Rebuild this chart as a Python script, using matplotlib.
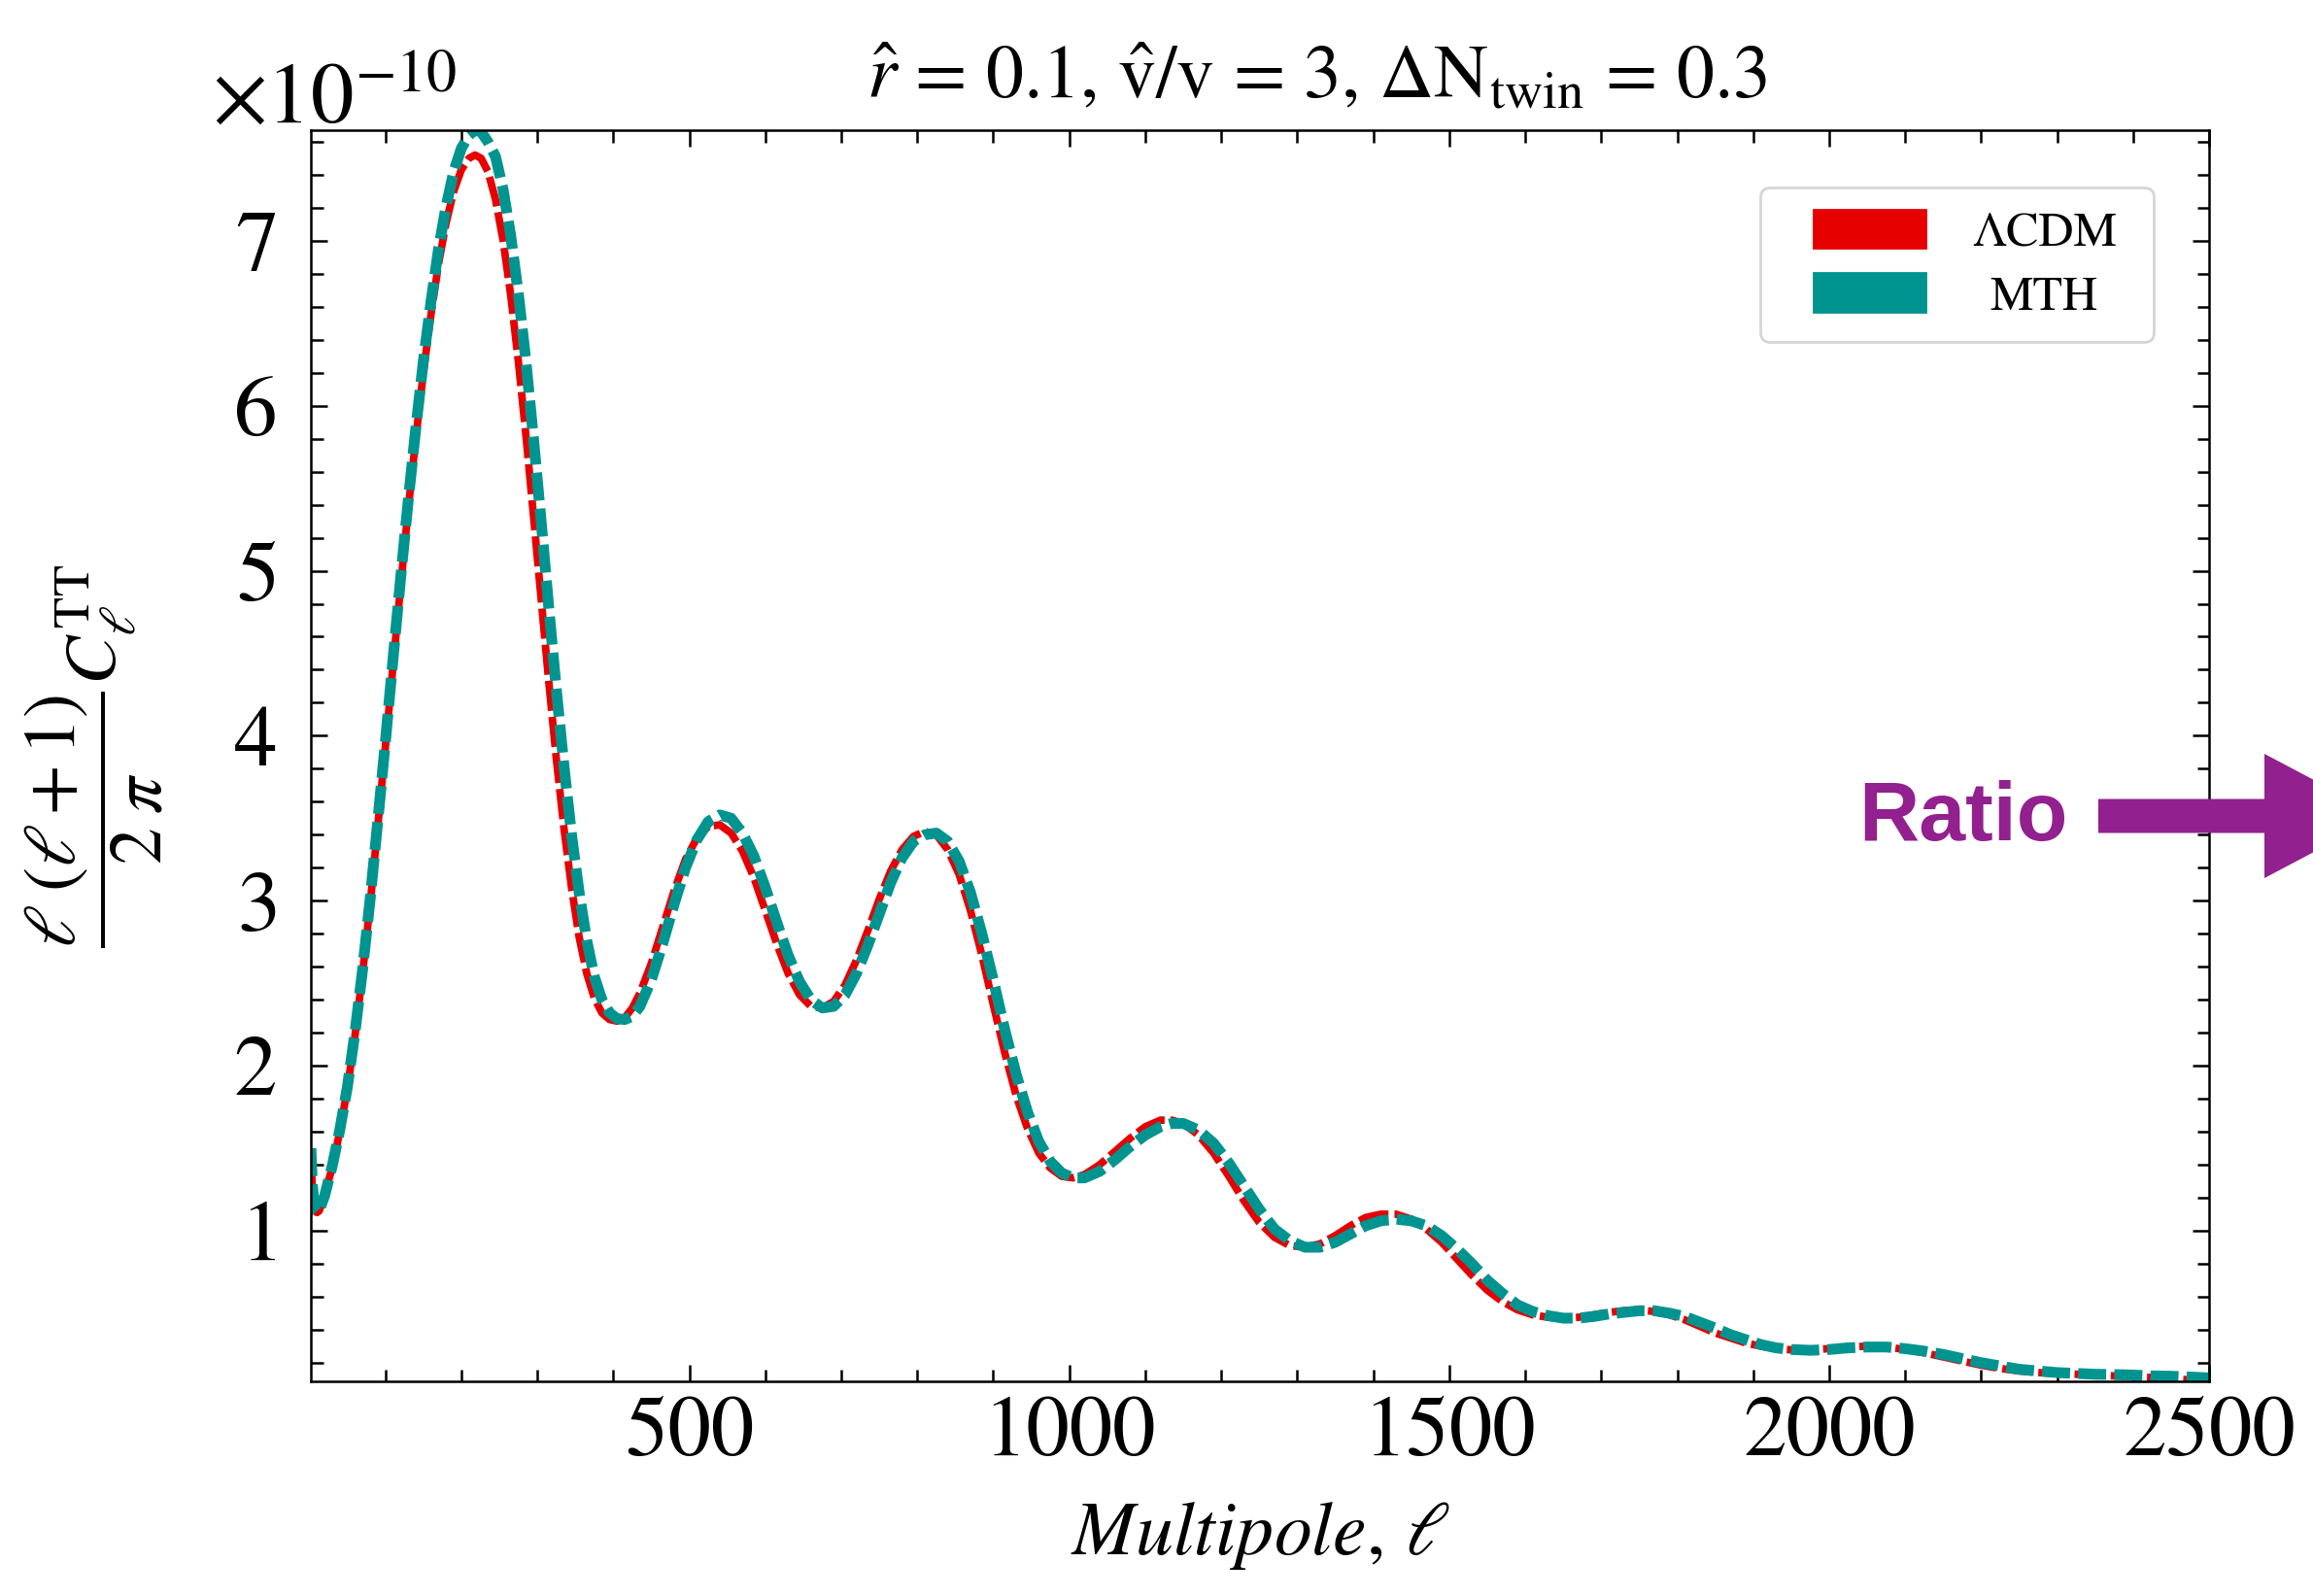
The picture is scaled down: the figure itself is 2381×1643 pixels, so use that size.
import numpy as np
import matplotlib
matplotlib.use("Agg")
import matplotlib.pyplot as plt
from matplotlib.legend_handler import HandlerPatch
from matplotlib.offsetbox import DrawingArea
from matplotlib.patches import FancyArrow, Patch, Rectangle
from matplotlib.ticker import MultipleLocator, ScalarFormatter

plt.rcParams["font.family"] = "STIXGeneral"
plt.rcParams["mathtext.fontset"] = "stix"

# multipoles and D_ell values (units of 1e-10)
ell = [
    2, 4, 6, 8, 10, 13, 16, 20, 25, 30,
    40, 50, 60, 70, 80, 90, 100, 110, 120, 130,
    140, 150, 160, 170, 180, 190, 200, 210, 218, 226,
    235, 245, 255, 265, 275, 285, 295, 305, 315, 325,
    335, 345, 355, 365, 375, 385, 395, 405, 415, 425,
    435, 450, 465, 480, 495, 510, 525, 540, 555, 570,
    585, 600, 615, 630, 645, 660, 675, 690, 705, 720,
    735, 750, 765, 780, 795, 810, 825, 840, 855, 870,
    885, 900, 915, 930, 945, 960, 975, 990, 1005, 1020,
    1040, 1060, 1080, 1100, 1120, 1135, 1150, 1170, 1190, 1210,
    1230, 1250, 1270, 1290, 1310, 1330, 1350, 1370, 1390, 1410,
    1430, 1450, 1470, 1490, 1510, 1530, 1550, 1570, 1590, 1610,
    1630, 1650, 1670, 1690, 1710, 1730, 1750, 1770, 1790, 1810,
    1830, 1850, 1870, 1890, 1910, 1930, 1950, 1975, 2000, 2025,
    2050, 2075, 2100, 2125, 2150, 2175, 2200, 2225, 2250, 2275,
    2300, 2325, 2350, 2375, 2400, 2425, 2450, 2475, 2500,
]
dl_lcdm = [
    1.45, 1.25, 1.16, 1.12, 1.11, 1.12, 1.16, 1.21, 1.30, 1.38,
    1.60, 1.86, 2.18, 2.56, 2.98, 3.45, 3.93, 4.42, 4.90, 5.37,
    5.80, 6.20, 6.55, 6.86, 7.11, 7.30, 7.43, 7.50, 7.52, 7.50,
    7.42, 7.25, 7.00, 6.67, 6.27, 5.82, 5.33, 4.83, 4.33, 3.86,
    3.44, 3.08, 2.78, 2.56, 2.41, 2.32, 2.28, 2.27, 2.29, 2.35,
    2.44, 2.62, 2.84, 3.06, 3.25, 3.38, 3.45, 3.46, 3.41, 3.30,
    3.14, 2.94, 2.74, 2.56, 2.43, 2.36, 2.35, 2.39, 2.49, 2.64,
    2.82, 3.01, 3.18, 3.31, 3.39, 3.42, 3.40, 3.31, 3.16, 2.94,
    2.67, 2.37, 2.08, 1.82, 1.62, 1.47, 1.38, 1.33, 1.32, 1.34,
    1.40, 1.48, 1.56, 1.63, 1.67, 1.67, 1.65, 1.58, 1.47, 1.33,
    1.18, 1.05, 0.96, 0.91, 0.90, 0.92, 0.97, 1.03, 1.08, 1.10,
    1.10, 1.07, 1.01, 0.93, 0.83, 0.73, 0.64, 0.57, 0.52, 0.49,
    0.475, 0.47, 0.475, 0.49, 0.505, 0.515, 0.52, 0.51, 0.49, 0.46,
    0.42, 0.38, 0.35, 0.32, 0.30, 0.285, 0.278, 0.278, 0.285, 0.295,
    0.30, 0.295, 0.28, 0.26, 0.235, 0.21, 0.185, 0.165, 0.15, 0.14,
    0.135, 0.13, 0.125, 0.12, 0.115, 0.11, 0.105, 0.095, 0.087,
]
dl_mth = [
    1.50, 1.28, 1.17, 1.12, 1.11, 1.12, 1.16, 1.21, 1.30, 1.39,
    1.61, 1.87, 2.20, 2.58, 3.01, 3.48, 3.96, 4.46, 4.95, 5.42,
    5.86, 6.27, 6.63, 6.95, 7.21, 7.42, 7.56, 7.64, 7.67, 7.66,
    7.60, 7.51, 7.31, 7.03, 6.68, 6.27, 5.80, 5.30, 4.78, 4.28,
    3.82, 3.40, 3.05, 2.76, 2.54, 2.40, 2.32, 2.285, 2.28, 2.30,
    2.36, 2.52, 2.74, 2.98, 3.20, 3.37, 3.48, 3.52, 3.50, 3.41,
    3.27, 3.08, 2.87, 2.67, 2.51, 2.40, 2.35, 2.36, 2.43, 2.56,
    2.73, 2.92, 3.11, 3.26, 3.36, 3.40, 3.41, 3.36, 3.24, 3.05,
    2.80, 2.52, 2.22, 1.95, 1.72, 1.54, 1.42, 1.35, 1.32, 1.32,
    1.36, 1.43, 1.51, 1.58, 1.63, 1.65, 1.65, 1.61, 1.53, 1.41,
    1.27, 1.13, 1.01, 0.94, 0.90, 0.90, 0.93, 0.98, 1.03, 1.06,
    1.07, 1.06, 1.03, 0.97, 0.89, 0.80, 0.70, 0.62, 0.55, 0.51,
    0.485, 0.47, 0.47, 0.48, 0.495, 0.505, 0.515, 0.515, 0.50, 0.48,
    0.445, 0.41, 0.37, 0.34, 0.31, 0.29, 0.28, 0.275, 0.28, 0.29,
    0.295, 0.295, 0.285, 0.27, 0.25, 0.225, 0.20, 0.18, 0.16, 0.15,
    0.14, 0.135, 0.13, 0.128, 0.125, 0.12, 0.118, 0.113, 0.108,
]
series_labels = ["ΛCDM", "MTH"]
series_colors = ["#e60000", "#009490"]
purple = "#92208f"


def legend_rect(legend, orig_handle, xdescent, ydescent, width, height, fontsize):
    # leave some room on the left of each colour swatch
    pad = 0.22 * width
    return Rectangle((-xdescent + pad, -ydescent), width - pad, height)


fig = plt.figure(figsize=(2381 / 200, 1643 / 200), dpi=200)
ax = fig.add_axes([0.1344, 0.1345, 0.8207, 0.7839])

ell_arr = np.array(ell)
lcdm = np.array(dl_lcdm) * 1e-10
mth = np.array(dl_mth) * 1e-10
ax.plot(ell_arr, lcdm, color=series_colors[0], lw=2.8, dashes=(4.0, 0.8))
ax.plot(ell_arr, mth, color=series_colors[1], lw=4.0, dashes=(2.6, 0.75))

ax.set_xlim(ell[0], ell[-1])
ax.set_ylim(min(lcdm.min(), mth.min()), max(lcdm.max(), mth.max()))

ax.xaxis.set_major_locator(MultipleLocator(500))
ax.xaxis.set_minor_locator(MultipleLocator(100))
ax.yaxis.set_major_locator(MultipleLocator(1e-10))
ax.yaxis.set_minor_locator(MultipleLocator(0.2e-10))
fmt = ScalarFormatter(useMathText=True)
fmt.set_powerlimits((0, 0))
ax.yaxis.set_major_formatter(fmt)

ax.tick_params(which="both", direction="in", top=True, right=True, width=0.9)
ax.tick_params(which="major", length=6, labelsize=32)
ax.tick_params(which="minor", length=4.5)
ax.tick_params(axis="y", which="major", pad=13)
ax.tick_params(axis="x", which="major", pad=5.5)
for sp in ax.spines.values():
    sp.set_linewidth(0.9)
off = ax.yaxis.get_offset_text()
off.set_fontsize(32)
off.set_x(-0.052)

ax.set_xlabel(r"$Multipole,\,\ell$", fontsize=28)
ax.set_ylabel(r"$\dfrac{\ell\;(\ell+1)}{2\;\pi}C_\ell^{\mathrm{TT}}$", fontsize=27)
ax.xaxis.set_label_coords(0.5, -0.095)
ax.yaxis.set_label_coords(-0.077, 0.5)
ax.set_title(r"$\hat{r}$ = 0.1, $\hat{\mathrm{v}}$/v = 3, $\Delta\mathrm{N}_{\mathrm{twin}}$ = 0.3",
             fontsize=28, x=0.53, pad=12)

handles = [Patch(color=c) for c in series_colors]
leg = ax.legend(handles, series_labels, loc="upper right",
                bbox_to_anchor=(0.9708, 0.9542), borderaxespad=0, fontsize=18,
                handlelength=2.95, handleheight=0.85, handletextpad=0.96,
                labelspacing=0.35, borderpad=0.45, columnspacing=0,
                fancybox=True, framealpha=1, edgecolor="#d6d6d6",
                handler_map={Patch: HandlerPatch(patch_func=legend_rect)})
leg.get_frame().set_linewidth(1.0)
# centre the shorter label under the longer one and pad the right side
rows = leg._legend_handle_box.get_children()[0].get_children()
rows[1].get_children()[0].width += 6.5
leg._legend_handle_box.get_children().append(DrawingArea(5.5, 1))

# "Ratio" pointer on the right edge
fig.text(1913 / 2381, 1 - 865 / 1643, "Ratio", ha="left", va="baseline",
         fontsize=31, fontweight="bold", color=purple, family="Liberation Sans")
arrow = FancyArrow(2160 / 2381, 1 - 840 / 1643, 292 / 2381, 0,
                   width=35 / 1643, head_width=128 / 1643, head_length=121 / 2381,
                   length_includes_head=True, color=purple, lw=0,
                   transform=fig.transFigure)
fig.add_artist(arrow)

fig.savefig("out.png", dpi=200)
plt.close(fig)
